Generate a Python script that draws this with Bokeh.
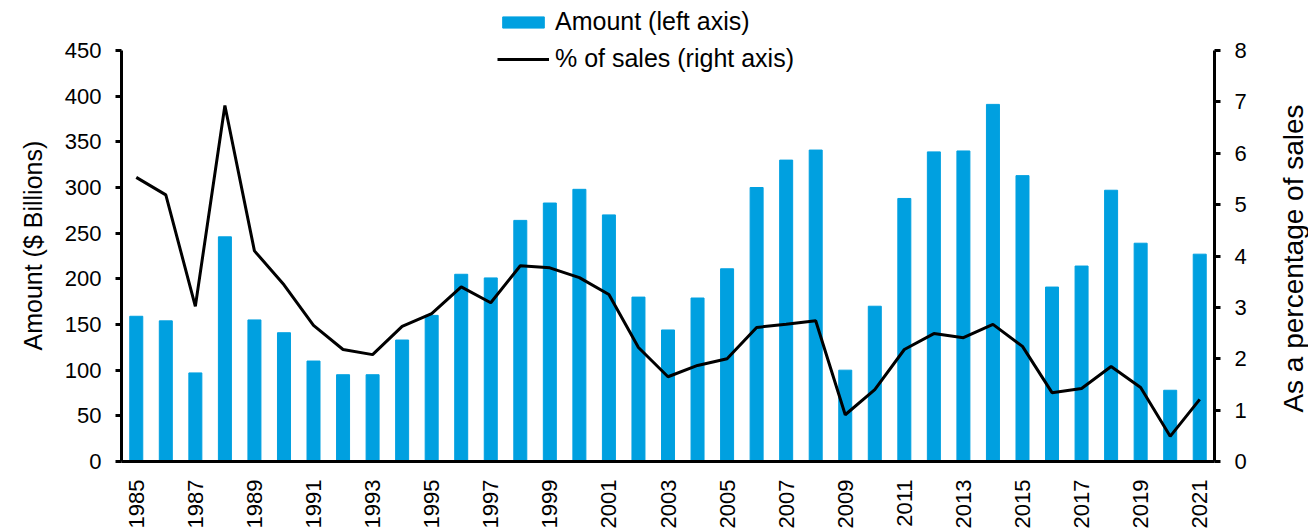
import math
from bokeh.plotting import figure
from bokeh.layouts import row
from bokeh.models import Range1d, LinearAxis, FixedTicker, Legend, LegendItem, Title, Label
from bokeh.embed import file_html
from bokeh.resources import INLINE

years = list(range(1985, 2022))
amount = [159, 154, 97, 246, 155, 141, 110, 95, 95, 133, 160, 205, 201, 264, 283, 298, 270, 180, 144, 179,
          211, 300, 330, 341, 100, 170, 288, 339, 340, 391, 313, 191, 214, 297, 239, 78, 227]
pct = [5.53, 5.19, 3.02, 6.93, 4.10, 3.44, 2.65, 2.18, 2.08, 2.63, 2.88, 3.40, 3.09, 3.81, 3.77, 3.58, 3.25,
       2.22, 1.65, 1.87, 2.00, 2.61, 2.67, 2.74, 0.91, 1.40, 2.18, 2.49, 2.41, 2.67, 2.24, 1.34, 1.42, 1.85,
       1.44, 0.49, 1.21]
left_ticks = list(range(0, 451, 50))
right_ticks = list(range(0, 9))
x_ticks = list(range(1985, 2022, 2))

FONT = "Liberation Sans"
BAR = "#00A0E0"

# frame spans the full height above the axis so the legend can sit over its top
FRAME_H = 461.0
LEFT_MAX = 450.0
RIGHT_MAX = 8.0
TOP_PX = 50.0
scale = FRAME_H / (FRAME_H - TOP_PX)

p = figure(width=1268, height=531, output_backend="svg", toolbar_location=None,
           x_range=Range1d(1984.5, 2021.5), y_range=Range1d(0, LEFT_MAX * scale),
           min_border_left=121, min_border_right=54, min_border_top=0, min_border_bottom=70)
p.extra_y_ranges = {"pct": Range1d(0, RIGHT_MAX * scale)}
p.grid.visible = False
p.outline_line_color = None
p.background_fill_color = "white"
p.border_fill_color = "white"

bars = p.vbar(x=years, top=amount, width=0.44, color=BAR)
line = p.line(x=years, y=pct, y_range_name="pct", line_width=3, color="black")

right = LinearAxis(y_range_name="pct")
p.add_layout(right, "right")

for ax in [p.yaxis[0], right, p.xaxis[0]]:
    ax.axis_line_width = 3
    ax.axis_line_color = "black"
    ax.major_tick_line_width = 3
    ax.major_tick_line_color = "black"
    ax.major_tick_in = 0
    ax.major_tick_out = 6
    ax.minor_tick_line_color = None
    ax.major_label_text_font = FONT
    ax.major_label_text_font_size = "22px"
    ax.major_label_text_color = "black"
    ax.major_label_standoff = 14

p.yaxis[0].ticker = FixedTicker(ticks=left_ticks)
p.yaxis[0].bounds = (0, LEFT_MAX)
right.ticker = FixedTicker(ticks=right_ticks)
right.bounds = (0, RIGHT_MAX)

left_title = Title(text="Amount ($ Billions)", align="left", offset=111, standoff=30,
                   text_font=FONT, text_font_size="25px", text_font_style="normal", text_color="black")
p.add_layout(left_title, "left")

p.xaxis[0].ticker = FixedTicker(ticks=x_ticks)
p.xaxis[0].major_tick_line_color = None
p.xaxis[0].major_label_orientation = math.pi / 2
p.xaxis[0].major_label_standoff = 12

legend = Legend(items=[LegendItem(label="Amount (left axis)", renderers=[bars]),
                       LegendItem(label="% of sales (right axis)", renderers=[line])],
                location=(376, 388), orientation="vertical",
                glyph_width=52, glyph_height=14, label_height=28, spacing=8,
                label_standoff=6, padding=0, margin=0,
                label_text_font=FONT, label_text_font_size="25px", label_text_color="black",
                border_line_color=None, background_fill_alpha=0)
p.add_layout(legend, "center")

# narrow strip to the right holding the right-axis title, reading bottom to top
p2 = figure(width=40, height=531, output_backend="svg", toolbar_location=None,
            x_range=Range1d(0, 1), y_range=Range1d(0, 1),
            min_border_left=0, min_border_right=0, min_border_top=0, min_border_bottom=0,
            x_axis_type=None, y_axis_type=None)
p2.grid.visible = False
p2.outline_line_color = None
p2.background_fill_color = "white"
p2.border_fill_color = "white"
p2.add_layout(Label(x=25, y=203, x_units="screen", y_units="screen", text="As a percentage of sales",
                    angle=math.pi / 2, text_align="center", text_baseline="middle",
                    text_font=FONT, text_font_size="28px", text_color="black"))

layout = row(p, p2, spacing=0)
open("out.html", "w").write(file_html(layout, INLINE))
